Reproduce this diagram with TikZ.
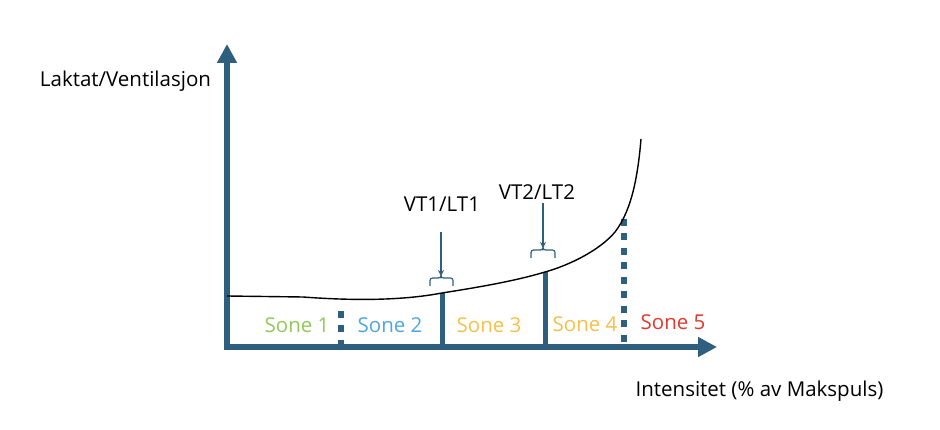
\documentclass[tikz,border=0pt]{standalone}
\usepackage{fontspec}
\setmainfont{Open Sans}
\usetikzlibrary{arrows.meta}
\definecolor{axisblue}{RGB}{46,95,126}
\definecolor{zgreen}{RGB}{146,200,90}
\definecolor{zblue}{RGB}{78,166,220}
\definecolor{zyellow}{RGB}{244,192,74}
\definecolor{zred}{RGB}{224,57,46}
\begin{document}
\begin{tikzpicture}[x=1pt,y=-1pt,
  lbl/.style={anchor=base,inner sep=0pt,font=\fontsize{20.5}{22}\selectfont},
  axisline/.style={draw=axisblue,line width=6pt},
  solidmark/.style={draw=axisblue,line width=5pt},
  dashmark/.style={draw=axisblue,line width=6pt,dash pattern=on 7pt off 7.5pt},
  pointer/.style={draw=axisblue,line width=1.2pt,-{Stealth[length=6pt,width=6pt]}},
  brace/.style={draw=axisblue,line width=1.2pt,rounded corners=2.5pt}]
\useasboundingbox (0,0) rectangle (940,430);
% axes
\coordinate (ytip) at (227,44);
\coordinate (origin) at (227,347);
\coordinate (xtip) at (717,347);
\draw[axisline,line join=miter,{Triangle[length=19pt,width=19pt]}-{Triangle[length=19pt,width=19pt]}] (ytip) -- (origin) -- (xtip);
% zone boundaries
\coordinate (d1t) at (341,311); \coordinate (d1b) at (341,346);
\coordinate (s1t) at (442,293); \coordinate (s1b) at (442,346);
\coordinate (s2t) at (545,272); \coordinate (s2b) at (545,346);
\coordinate (d2t) at (624,219); \coordinate (d2b) at (624,346);
\draw[dashmark] (d1t) -- (d1b);
\draw[solidmark] (s1t) -- (s1b);
\draw[solidmark] (s2t) -- (s2b);
\draw[dashmark] (d2t) -- (d2b);
% curve
\draw[black,line width=1.4pt] (227,296) -- (303,297)
  .. controls (350,300.5) and (400,301) .. (442,293)
  .. controls (480,287) and (515,281) .. (545,272)
  .. controls (570,265) and (600,250) .. (615,232)
  .. controls (632,210) and (638,175) .. (641,139);
% labels
\node[lbl] (ylab) at (125.5,87) {Laktat/Ventilasjon};
\node[lbl] (xlab) at (759.5,396) {Intensitet (\% av Makspuls)};
\node[lbl] (vt1) at (442,212) {VT1/LT1};
\node[lbl] (vt2) at (537,200) {VT2/LT2};
\node[lbl,text=zgreen] (z1) at (297,333) {Sone 1};
\node[lbl,text=zblue] (z2) at (390,333) {Sone 2};
\node[lbl,text=zyellow] (z3) at (489,333) {Sone 3};
\node[lbl,text=zyellow] (z4) at (585,332) {Sone 4};
\node[lbl,text=zred] (z5) at (673,330) {Sone 5};
% pointers and braces
\coordinate (p1s) at (441,232); \coordinate (p1e) at (441,276);
\coordinate (p2s) at (543,203); \coordinate (p2e) at (543,248);
\draw[pointer] (p1s) -- (p1e);
\draw[pointer] (p2s) -- (p2e);
\draw[brace] (430,286) -- (430,278) -- (441,278) -- (441,276) -- (441,278) -- (453,278) -- (453,286);
\draw[brace] (531,258) -- (531,250) -- (543,250) -- (543,248) -- (543,250) -- (555,250) -- (555,258);
\end{tikzpicture}
\end{document}
